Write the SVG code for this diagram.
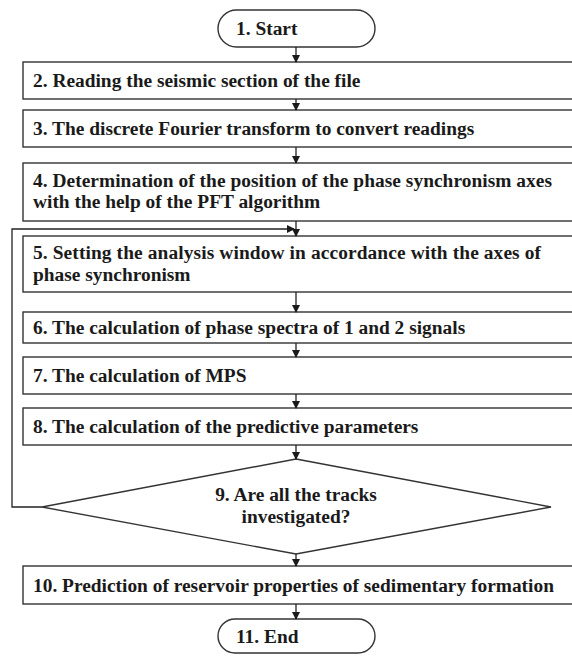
<svg xmlns="http://www.w3.org/2000/svg" width="572" height="656" viewBox="0 0 572 656">
<defs>
<marker id="ah" markerWidth="8" markerHeight="8" refX="7" refY="4" orient="auto" markerUnits="userSpaceOnUse">
<path d="M0,0 L8,4 L0,8 Z" fill="#1a1a1a"/>
</marker>
<style>
.box{fill:#fff;stroke:#333;stroke-width:1.4}
.t{font-family:Liberation Serif,Tinos,FreeSerif,Nimbus Roman,Times,serif;font-weight:bold;font-size:19.4px;fill:#1a1a1a}
.c{text-anchor:middle}
.ln{fill:none;stroke:#222;stroke-width:1.3}
</style>
</defs>
<rect width="572" height="656" fill="#fff"/>
<g id="n1"><rect class="box" x="218" y="10" width="157" height="37" rx="18.5"/><text class="t" x="236" y="35">1. Start</text></g>
<g id="n2"><rect class="box" x="23" y="62" width="560" height="37"/><text class="t" x="33" y="87">2. Reading the seismic section of the file</text></g>
<g id="n3"><rect class="box" x="23" y="110" width="560" height="37"/><text class="t" x="33" y="135">3. The discrete Fourier transform to convert readings</text></g>
<g id="n4"><rect class="box" x="23" y="163" width="560" height="58"/><text class="t" x="33" y="187" textLength="519" lengthAdjust="spacing">4. Determination of the position of the phase synchronism axes</text><text class="t" x="33" y="208">with the help of the PFT algorithm</text></g>
<g id="n5"><rect class="box" x="23" y="236" width="560" height="56"/><text class="t" x="33" y="259" textLength="508" lengthAdjust="spacing">5. Setting the analysis window in accordance with the axes of</text><text class="t" x="33" y="281">phase synchronism</text></g>
<g id="n6"><rect class="box" x="23" y="312" width="560" height="31"/><text class="t" x="33" y="334">6. The calculation of phase spectra of 1 and 2 signals</text></g>
<g id="n7"><rect class="box" x="23" y="357" width="560" height="37"/><text class="t" x="33" y="382">7. The calculation of MPS</text></g>
<g id="n8"><rect class="box" x="23" y="408" width="560" height="37"/><text class="t" x="33" y="433">8. The calculation of the predictive parameters</text></g>
<g id="n9"><polygon class="box" points="296,459 551,507 296,554 42,507"/><text class="t c" x="296" y="501">9. Are all the tracks</text><text class="t c" x="296" y="523">investigated?</text></g>
<g id="n10"><rect class="box" x="23" y="566" width="560" height="38"/><text class="t" x="33" y="592">10. Prediction of reservoir properties of sedimentary formation</text></g>
<g id="n11"><rect class="box" x="218" y="619" width="157" height="34" rx="17"/><text class="t" x="236" y="643">11. End</text></g>
<g id="connectors">
<line class="ln" x1="296" y1="47" x2="296" y2="62" marker-end="url(#ah)"/>
<line class="ln" x1="296" y1="99" x2="296" y2="110" marker-end="url(#ah)"/>
<line class="ln" x1="296" y1="147" x2="296" y2="163" marker-end="url(#ah)"/>
<line class="ln" x1="296" y1="221" x2="296" y2="236" marker-end="url(#ah)"/>
<line class="ln" x1="296" y1="292" x2="296" y2="312" marker-end="url(#ah)"/>
<line class="ln" x1="296" y1="343" x2="296" y2="357" marker-end="url(#ah)"/>
<line class="ln" x1="296" y1="394" x2="296" y2="408" marker-end="url(#ah)"/>
<line class="ln" x1="296" y1="445" x2="296" y2="459" marker-end="url(#ah)"/>
<line class="ln" x1="296" y1="554" x2="296" y2="566" marker-end="url(#ah)"/>
<line class="ln" x1="296" y1="604" x2="296" y2="619" marker-end="url(#ah)"/>
<polyline class="ln" points="42,507 12,507 12,229 294,229" marker-end="url(#ah)"/>
</g>
</svg>
